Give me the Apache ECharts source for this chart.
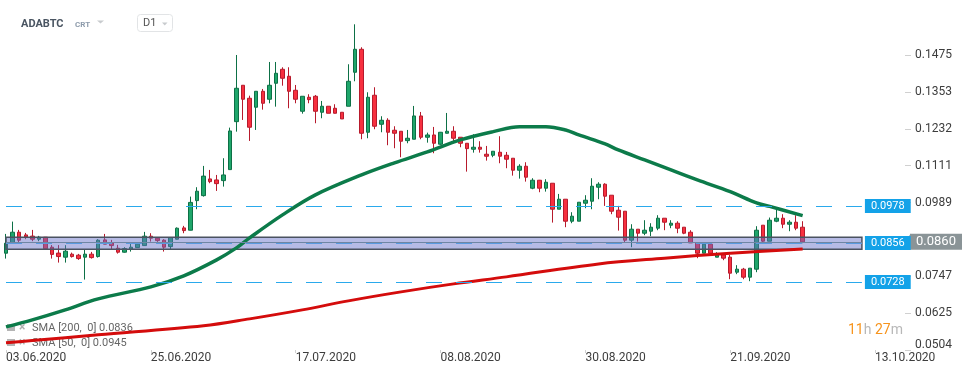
<!DOCTYPE html>
<html><head><meta charset="utf-8">
<script src="https://cdn.jsdelivr.net/npm/echarts@6/dist/echarts.min.js"></script>
<style>html,body{margin:0;padding:0;background:#fff}#c{width:974px;height:375px}</style>
</head><body><div id="c"></div>
<script>
// ---- data ----
const startDate = [2020, 5, 3];   // 03.06.2020
const dayCount = 138;              // axis runs to 18.10.2020
const xTickLabels = ['03.06.2020','25.06.2020','17.07.2020','08.08.2020','30.08.2020','21.09.2020','13.10.2020'];
const yTickValues = [0.0504,0.0625,0.0747,0.0989,0.1111,0.1232,0.1353,0.1475];

const opens = [0.08226,0.08575,0.08917,0.08828,0.08789,0.08687,0.08753,0.08424,0.0823,0.08095,
0.08194,0.08161,0.08095,0.08194,0.08115,0.08664,0.08565,0.08391,0.08259,0.08358,
0.08411,0.08476,0.08786,0.0872,0.08654,0.08444,0.08687,0.09059,0.08983,0.09957,
0.10121,0.10671,0.10638,0.10615,0.10977,0.12556,0.13754,0.13326,0.1303,0.13556,
0.13293,0.13819,0.1428,0.1405,0.13589,0.12898,0.13359,0.13392,0.12865,0.13063,
0.12997,0.12865,0.13063,0.14181,0.14938,0.12207,0.13425,0.1247,0.12602,0.12273,
0.1224,0.11931,0.11977,0.12744,0.12043,0.12118,0.11813,0.12174,0.1224,0.12043,
0.11845,0.11648,0.11714,0.11484,0.1145,0.11549,0.1145,0.11352,0.10957,0.11089,
0.10365,0.10628,0.10365,0.10529,0.09674,0.10003,0.09279,0.09279,0.09871,0.09937,
0.10398,0.10497,0.10135,0.09641,0.09608,0.08654,0.09016,0.08884,0.0895,0.09049,
0.09378,0.09148,0.09213,0.09082,0.08917,0.08555,0.08226,0.08523,0.08095,0.0817,
0.08095,0.07601,0.077,0.07437,0.077,0.09148,0.08621,0.09279,0.09378,0.0918,
0.09246,0.09082];
const closes = [0.08555,0.08917,0.08654,0.08763,0.08687,0.08753,0.08374,0.08187,0.08115,0.08292,
0.08115,0.08049,0.08194,0.08082,0.08654,0.08523,0.08476,0.08259,0.08378,0.08424,
0.08523,0.08786,0.0872,0.08641,0.08424,0.0874,0.09049,0.0897,0.09898,0.10266,
0.10763,0.10582,0.10516,0.10802,0.1225,0.13655,0.13293,0.12372,0.13556,0.13161,
0.13754,0.14148,0.13984,0.13556,0.13293,0.13392,0.1328,0.12898,0.13063,0.12832,
0.12832,0.12645,0.13885,0.14938,0.12174,0.13359,0.12405,0.12602,0.12207,0.12174,
0.11911,0.1201,0.12744,0.12043,0.12118,0.11845,0.12207,0.1224,0.1201,0.11845,
0.11668,0.11714,0.11648,0.11418,0.11582,0.11418,0.11319,0.10957,0.11089,0.10727,
0.10628,0.10365,0.10562,0.09674,0.10003,0.09279,0.09444,0.09904,0.0997,0.10431,
0.10497,0.10102,0.09608,0.09411,0.08654,0.09016,0.08884,0.08983,0.09082,0.09378,
0.09246,0.09213,0.09049,0.08884,0.08565,0.08226,0.08523,0.08226,0.0817,0.08062,
0.07568,0.077,0.07437,0.07733,0.08983,0.08621,0.09312,0.09378,0.0918,0.09246,
0.09049,0.0860];
const lows = [0.08049,0.08549,0.08555,0.08687,0.08621,0.08621,0.08368,0.08049,0.07917,0.07917,
0.08082,0.08006,0.07358,0.08049,0.08082,0.08523,0.08358,0.08213,0.08243,0.08279,
0.08401,0.08467,0.08608,0.08598,0.08279,0.08358,0.0868,0.08884,0.08977,0.09674,
0.10089,0.10529,0.10276,0.10418,0.10977,0.12227,0.12612,0.11921,0.12283,0.12951,
0.13161,0.1305,0.1374,0.12997,0.13161,0.12819,0.13161,0.12503,0.12668,0.12832,
0.12826,0.12645,0.13063,0.13885,0.11977,0.1201,0.12306,0.12207,0.1178,0.11681,
0.11385,0.11845,0.11977,0.11977,0.11865,0.11516,0.1179,0.12168,0.11878,0.11714,
0.10911,0.11536,0.11536,0.11273,0.11385,0.11187,0.11023,0.10779,0.10681,0.10582,
0.10332,0.10233,0.10253,0.09233,0.09674,0.09082,0.09213,0.09279,0.09707,0.09674,
0.10003,0.09783,0.0951,0.0897,0.08575,0.08424,0.08608,0.08819,0.08786,0.08983,
0.08983,0.09049,0.08884,0.08852,0.08565,0.08062,0.08226,0.08226,0.08095,0.07996,
0.07371,0.07536,0.07371,0.07305,0.07601,0.08555,0.08621,0.09246,0.09049,0.0895,
0.08983,0.08555];
const highs = [0.08861,0.09266,0.08993,0.08894,0.08993,0.08796,0.08753,0.08493,0.08493,0.0849,
0.08246,0.08203,0.08335,0.08269,0.08687,0.08861,0.08664,0.085,0.08424,0.08555,
0.08549,0.08927,0.08884,0.08753,0.08687,0.08753,0.09075,0.09125,0.10089,0.10398,
0.11099,0.10967,0.10802,0.11352,0.12359,0.1475,0.13754,0.13411,0.13556,0.13632,
0.1452,0.1452,0.14346,0.14346,0.13763,0.13392,0.13458,0.13434,0.13237,0.13063,
0.13129,0.12865,0.14445,0.1576,0.15004,0.13523,0.13688,0.12734,0.12668,0.12405,
0.1224,0.12283,0.13073,0.12875,0.12194,0.12382,0.12217,0.12842,0.12405,0.12043,
0.11845,0.12142,0.11911,0.11757,0.11582,0.12076,0.11559,0.11352,0.11155,0.1122,
0.10694,0.10638,0.10661,0.10529,0.10177,0.10003,0.09575,0.09904,0.10135,0.10694,
0.10562,0.10529,0.10135,0.09783,0.09608,0.0918,0.09016,0.09312,0.09213,0.09477,
0.09378,0.09312,0.09279,0.09082,0.08983,0.08555,0.08523,0.08523,0.08259,0.08226,
0.0817,0.07832,0.07743,0.07733,0.09115,0.09148,0.0940,0.09651,0.0951,0.09312,
0.09477,0.09279];

// SMA lines, sampled at these day indices
const sma50Days = [0,4,9,14,22,27,32,35,37,42,47,54,59,64,69,74,78,82,85,87,91,93,97,101,105,110,114,116,121];
const sma50Vals = [0.05802,0.06032,0.06361,0.06723,0.07118,0.0748,0.08006,0.084,0.0873,0.09487,
0.10145,0.10803,0.112,0.11559,0.11954,0.12227,0.12392,0.12392,0.12283,0.12119,
0.11822,0.11625,0.11296,0.10967,0.10638,0.10253,0.09881,0.09766,0.09464];
const sma200Days = [0,4,14,30,37,45,52,60,68,76,90,100,110,121];
const sma200Vals = [0.05275,0.05351,0.05539,0.05835,0.06065,0.06361,0.06657,0.06953,0.07216,0.07447,0.07874,0.08062,0.08226,0.08368];

const levelHigh = 0.0978, levelMid = 0.0856, levelLow = 0.0728;
const zoneTop = 0.0875, zoneBottom = 0.0836;
const lastPrice = 0.0860;
const zoneEndDay = 130;
// ---------------

function pad(n){return (n<10?'0':'')+n;}
const dates = [];
for (let i = 0; i < dayCount; i++) {
  const d = new Date(Date.UTC(startDate[0], startDate[1], startDate[2] + i));
  dates.push(pad(d.getUTCDate()) + '.' + pad(d.getUTCMonth()+1) + '.' + d.getUTCFullYear());
}
const candles = opens.map((o,i)=>[o, closes[i], lows[i], highs[i]]);
const yMin = 0.0504, yMax = 0.1656;
const FONT = 'Roboto, "Noto Sans", sans-serif';

function levelLine(v, color, showLabel){
  return [
    {coord:[0, v], lineStyle:{type:[16,14], color:color, width:1.2},
     label:{show:showLabel, position:'end', formatter: v.toFixed(4), distance:3,
            backgroundColor:'#13a2e8', color:'#fff', fontSize:11, fontFamily:FONT,
            padding:[2,6,1,6]}},
    {coord:[zoneEndDay, v]}
  ];
}

const chart = echarts.init(document.getElementById('c'), null, {renderer:'canvas'});
chart.setOption({
  animation:false,
  grid:{left:6, right:66, top:0, bottom:25, containLabel:false},
  xAxis:{
    type:'category', data:dates, boundaryGap:false,
    axisLine:{show:false},
    axisTick:{show:true, length:3, lineStyle:{color:'#d0d0d0'}, interval:(i,v)=>xTickLabels.includes(v)},
    axisLabel:{interval:(i,v)=>xTickLabels.includes(v), align:'left', margin:2,
               color:'#3d3d3d', fontSize:12, fontFamily:FONT},
    splitLine:{show:false}
  },
  yAxis:{
    type:'value', position:'right', offset:-3, min:yMin, max:yMax, scale:true,
    axisLine:{show:false},
    splitLine:{show:false},
    axisTick:{show:true, length:6, lineStyle:{color:'#d0d0d0'}, customValues:yTickValues},
    axisLabel:{customValues:yTickValues, margin:10, color:'#3d3d3d', fontSize:12, fontFamily:FONT,
      formatter:(v)=> Math.abs(v-yMin)<1e-6 ? '{lo|'+v.toFixed(4)+'}' : v.toFixed(4),
      rich:{lo:{padding:[0,0,10,0], color:'#3d3d3d', fontSize:12, fontFamily:FONT}}}
  },
  series:[
    {
      type:'candlestick', data:candles, barWidth:4, clip:false,
      itemStyle:{color:'#1fa66b', color0:'#f7303f', borderColor:'#0d7046', borderColor0:'#b71a2c', borderWidth:1},
      markArea:{z:3, silent:true,
        itemStyle:{color:'rgba(100,110,200,0.47)', borderColor:'#4a5260', borderWidth:1.5},
        data:[[{coord:[0, zoneTop]}, {coord:[zoneEndDay, zoneBottom]}]]},
      markLine:{silent:true, symbol:['none','none'],
        data:[
          levelLine(levelHigh, '#2aa9ec', true),
          levelLine(levelLow, '#2aa9ec', true),
          [{coord:[0,lastPrice], lineStyle:{type:'solid', color:'#6f86a3', width:1}, label:{show:false}},
           {coord:[zoneEndDay,lastPrice]}],
          levelLine(levelMid, '#5a9be0', true)
        ]},
      markPoint:{silent:true,
        data:[
          {coord:[dayCount-1, lastPrice], symbol:'rect', symbolSize:[52,16], symbolOffset:[28,0],
           itemStyle:{color:'#8a9497'},
           label:{show:true, position:'inside', formatter:lastPrice.toFixed(4), color:'#fff', fontSize:13, fontFamily:FONT}},
          {coord:[dayCount-1, lastPrice], symbol:'triangle', symbolSize:[16,5], symbolRotate:90, symbolOffset:[0,0],
           itemStyle:{color:'#8a9497'}, label:{show:false}}
        ]}
    },
    {
      type:'line', name:'SMA50', data:sma50Days.map((d,k)=>[d, sma50Vals[k]]),
      smooth:0.35, symbol:'none', lineStyle:{width:3.5, color:'#0c7b4a'}, z:3
    },
    {
      type:'line', name:'SMA200', data:sma200Days.map((d,k)=>[d, sma200Vals[k]]),
      smooth:0.35, symbol:'none', lineStyle:{width:3, color:'#d40c0c'}, z:3
    }
  ],
  graphic:[
    {type:'text', x:21, y:24, style:{text:'ADABTC', fill:'#4a5562', font:'bold 11px '+FONT, verticalAlign:'middle'}},
    {type:'text', x:75, y:24.5, style:{text:'CRT', fill:'#8d9bab', font:'bold 8px '+FONT, verticalAlign:'middle'}},
    {type:'polygon', shape:{points:[[97,20.5],[104,20.5],[100.5,23.5]]}, style:{fill:'#c8cbce'}},
    {type:'rect', shape:{x:137.5, y:14.5, width:35, height:17, r:3}, style:{fill:'#fff', stroke:'#e2e4e6', lineWidth:1}},
    {type:'text', x:143, y:23.5, style:{text:'D1', fill:'#555', font:'11px '+FONT, verticalAlign:'middle'}},
    {type:'polygon', shape:{points:[[162,22.5],[167.5,22.5],[164.75,25.5]]}, style:{fill:'#c8cbce'}},
    // legend rows
    {type:'rect', shape:{x:7, y:324, width:8, height:7}, style:{fill:'#b4b4b4'}},
    {type:'text', x:19, y:328, style:{text:'×', fill:'#b0b0b0', font:'bold 12px '+FONT, verticalAlign:'middle'}},
    {type:'text', x:32, y:328, style:{text:'SMA [200,  0] 0.0836', fill:'#666', font:'11px '+FONT, verticalAlign:'middle'}},
    {type:'rect', shape:{x:7, y:339, width:8, height:7}, style:{fill:'#b4b4b4'}},
    {type:'text', x:19, y:343, style:{text:'×', fill:'#b0b0b0', font:'bold 12px '+FONT, verticalAlign:'middle'}},
    {type:'text', x:32, y:343, style:{text:'SMA [50,  0] 0.0945', fill:'#666', font:'11px '+FONT, verticalAlign:'middle'}},
    // countdown
    {type:'text', x:848, y:330, style:{text:'{o|11}{g|h} {o|27}{g|m}', verticalAlign:'middle', font:'14px '+FONT,
      rich:{o:{fill:'#f7941d', font:'14px '+FONT}, g:{fill:'#b8b8b8', font:'14px '+FONT}}}}
  ]
});
</script>
</body></html>
